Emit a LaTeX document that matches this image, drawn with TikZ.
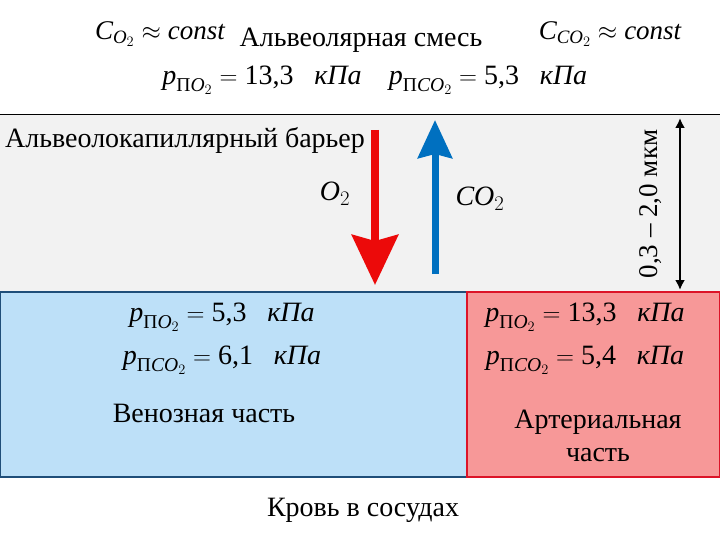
\documentclass[tikz,border=0pt]{standalone}
\usepackage{amsmath}
\usepackage{xcolor}
\usepackage{fontspec}
\setmainfont{Liberation Serif}
\usepackage{tikz}
\usetikzlibrary{arrows.meta,positioning}

\definecolor{barrierfill}{RGB}{242,242,242}
\definecolor{venfill}{RGB}{189,224,248}
\definecolor{venline}{RGB}{31,78,121}
\definecolor{artfill}{RGB}{247,152,152}
\definecolor{artline}{RGB}{220,20,40}
\definecolor{otwo}{RGB}{236,10,10}
\definecolor{cotwo}{RGB}{0,112,192}

% partial pressure
\newcommand{\pres}[2]{$\textit{p}_{\text{П}\textit{#1}_2}=\text{#2}\;\;\;\textit{кПа}$}

\begin{document}
\begin{tikzpicture}[
    x=1pt, y=-1pt,
    txt/.style={
        % plain Russian labels
        inner sep=0pt,
        font=\fontsize{28}{32}\selectfont},
    formula/.style={
        inner sep=0pt,
        font=\fontsize{28}{32}\selectfont},
    gasarrow/.style={
        line width=8pt,
        -{Stealth[inset=3pt]}}]%zones
  \useasboundingbox (0,0) rectangle (720,540);
  \fill[white] (0,0) rectangle (720,540);
  \draw[fill=barrierfill, line width=1pt] (-2,115) rectangle (722,292);
  \draw[fill=venfill, draw=venline, line width=1.5pt] (0,292) rectangle (467,477);
  \draw[fill=artfill, draw=artline, line width=1.5pt] (467,292) rectangle (720,477);
  % alveolar mixture
  \node (co2const) [formula, font=\fontsize{27}{31}\selectfont] at (160,34) {$\textit{C}_{\textit{O}_2}\approx\textit{const}$};
  \node (mix) [txt] at (361,40) {Альвеолярная смесь};
  \node (cco2const) [formula, font=\fontsize{27}{31}\selectfont] at (610,34) {$\textit{C}_{\textit{CO}_2}\approx\textit{const}$};
  \node (pO2top) [formula] at (262,80) {\pres{O}{13,3}};
  \node (pCO2top) [formula] at (488,80) {\pres{CO}{5,3}};
  % barrier
  \node (barrier) [txt, anchor=west] at (5,140) {Альвеолокапиллярный барьер};
  \coordinate (o2start) at (375,130);
  \coordinate (o2end) at (375,285);
  \coordinate (co2start) at (435,274);
  \coordinate (co2end) at (435,120);
  \draw[gasarrow, otwo, -{Stealth[inset=6pt,length=50pt,width=46pt]}] (o2start) -- (o2end);
  \draw[gasarrow, cotwo, line width=7pt, -{Stealth[inset=4pt,length=38pt,width=34pt]}] (co2start) -- (co2end);
  \node (o2) [formula] at (335,194) {$\textit{O}_2$};
  \node (co2) [formula] at (480,199) {$\textit{CO}_2$};
  \coordinate (thtop) at (680,118);
  \coordinate (thbot) at (680,290);
  \draw[line width=2pt, {Latex[length=10pt,width=10pt]}-{Latex[length=10pt,width=10pt]}] (thtop) -- (thbot);
  \node (thick) [txt, rotate=90, font=\fontsize{27}{30}\selectfont] at (651,204) {0,3 -- 2,0 мкм};
  % blood
  \node (pO2ven) [formula] at (222,317) {\pres{O}{5,3}};
  \node (pCO2ven) [formula] at (222,360) {\pres{CO}{6,1}};
  \node (ven) [txt] at (204,413) {Венозная часть};
  \node (pO2art) [formula] at (585,317) {\pres{O}{13,3}};
  \node (pCO2art) [formula] at (585,360) {\pres{CO}{5,4}};
  \node (art) [txt, align=center, font=\fontsize{28}{33}\selectfont] at (598,436) {Артериальная\\часть};
  \node (blood) [txt] at (363,510) {Кровь в сосудах};
\end{tikzpicture}
\end{document}
